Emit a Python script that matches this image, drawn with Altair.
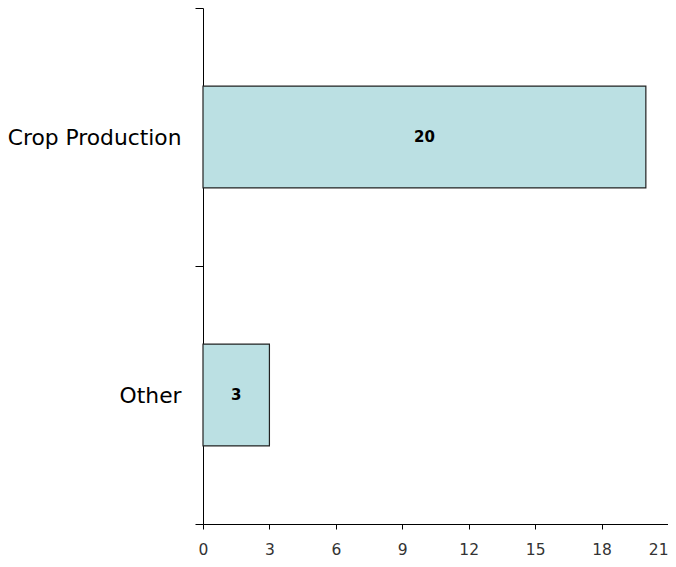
import altair as alt
import pandas as pd

categories = ["Crop Production", "Other"]
values = [20, 3]
x_ticks = [0, 3, 6, 9, 12, 15, 18, 21]

df = pd.DataFrame({"category": categories, "value": values})

FONT = "DejaVu Sans"

y_enc = alt.Y(
    "category:N",
    sort=categories,
    scale=alt.Scale(paddingInner=0, paddingOuter=0),
    axis=alt.Axis(
        title=None,
        grid=False,
        domainColor="black",
        tickColor="black",
        tickSize=8,
        tickBand="extent",
        labelFont=FONT,
        labelFontSize=21.8,
        labelColor="black",
        labelPadding=14,
        labelLimit=400,
    ),
)

x_enc = alt.X(
    "value:Q",
    scale=alt.Scale(domain=[0, 21], nice=False),
    axis=alt.Axis(
        title=None,
        values=x_ticks,
        grid=False,
        domainColor="black",
        tickColor="black",
        tickSize=5,
        labelFont=FONT,
        labelFontSize=15.5,
        labelColor="#333333",
        labelPadding=13,
        labelAlign={"condition": {"test": "datum.value === 21", "value": "right"}, "value": "center"},
    ),
)

bars = alt.Chart(df).mark_bar(
    fill="#BBE0E3", stroke="#222222", strokeWidth=1.2,
    height=alt.RelativeBandSize(0.395),
).encode(x=x_enc, y=y_enc)

text = alt.Chart(df).transform_calculate(
    mid="datum.value / 2"
).mark_text(
    font=FONT, fontSize=15, fontWeight="bold", color="black", baseline="middle"
).encode(
    x=alt.X("mid:Q"),
    y=alt.Y("category:N", sort=categories),
    text=alt.Text("value:Q"),
)

chart = alt.layer(bars, text).properties(
    width=465,
    height=516,
    background="white",
    autosize=alt.AutoSizeParams(type="none"),
    padding={"left": 195, "top": 0, "right": 0, "bottom": 35},
).configure_view(stroke=None)

chart.save("out.html", embed_options={"renderer": "svg", "actions": False})
